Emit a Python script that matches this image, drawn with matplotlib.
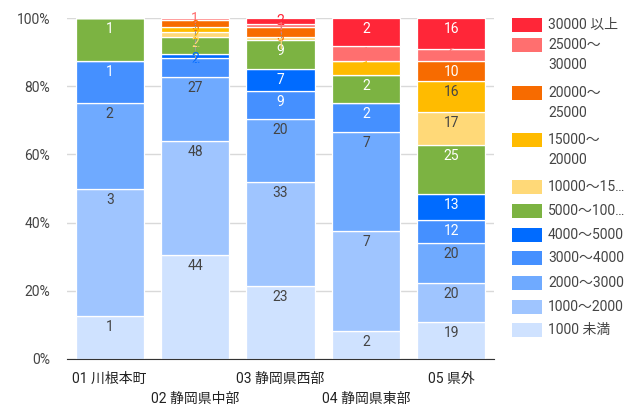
import numpy as np
import matplotlib
matplotlib.use("Agg")
from matplotlib import pyplot as plt
from matplotlib.patches import Rectangle

plt.rcParams['font.family'] = ['Roboto', 'Noto Sans CJK JP', 'DejaVu Sans']

regions = ['01 川根本町', '02 静岡県中部', '03 静岡県西部', '04 静岡県東部', '05 県外']
bands = ['1000 未満', '1000～2000', '2000～3000', '3000～4000', '4000～5000',
         '5000～10000', '10000～15000', '15000～20000', '20000～25000',
         '25000～30000', '30000 以上']
legend_text = ['1000 未満', '1000～2000', '2000～3000', '3000～4000', '4000～5000',
               '5000～100…', '10000～15…', '15000～\n20000', '20000～\n25000',
               '25000～\n30000', '30000 以上']

# counts per region, one list per band (bottom to top)
lt1000 = [1, 44, 23, 2, 19]
b1000 = [3, 48, 33, 7, 20]
b2000 = [2, 27, 20, 7, 20]
b3000 = [1, 8, 9, 2, 12]
b4000 = [0, 2, 7, 0, 13]
b5000 = [1, 7, 9, 2, 25]
b10000 = [0, 2, 1, 0, 17]
b15000 = [0, 2, 0, 1, 16]
b20000 = [0, 3, 3, 0, 10]
b25000 = [0, 1, 1, 1, 6]
ge30000 = [0, 0, 2, 2, 16]

colors = ['#cfe2ff', '#9fc5ff', '#6faaff', '#4590ff', '#006bff',
          '#7cb342', '#ffd978', '#ffbb00', '#f76b00', '#ff6f6f', '#ff2638']
text_dark = [True, True, True, False, False, False, True, True, False, False, False]

counts = np.array([lt1000, b1000, b2000, b3000, b4000, b5000,
                   b10000, b15000, b20000, b25000, ge30000], dtype=float)
totals = counts.sum(axis=0)
shares = counts / totals

fig = plt.figure(figsize=(6.32, 4.05), dpi=100)
ax = fig.add_axes([67 / 632, 1 - 359 / 405, 427 / 632, 341 / 405])

x = np.arange(len(regions))
px = 341.0  # pixels per 100%
bottom = np.zeros(len(regions))
small = [[] for _ in regions]   # labels that don't fit inside their segment
for i, name in enumerate(bands):
    ax.bar(x, shares[i], 0.8, bottom=bottom, color=colors[i],
           edgecolor='white', linewidth=0.9, zorder=2)
    for j in range(len(regions)):
        v = counts[i, j]
        if v == 0:
            continue
        h = shares[i, j]
        top = bottom[j] + h
        if h * px >= 19:
            ax.text(x[j], top - 11 / px, '%d' % v, ha='center', va='center',
                    fontsize=10, color='#444444' if text_dark[i] else 'white',
                    zorder=4)
        else:
            small[j].append((bottom[j] + h / 2, v, colors[i]))
    bottom += shares[i]

# stack the outside labels downward from the top of each bar
for j, items in enumerate(small):
    prev = None
    for mid, v, c in sorted(items, reverse=True):
        y = mid if prev is None else min(mid, prev - 8 / px)
        ax.plot([x[j], x[j]], [y, mid], color='#999999', lw=0.8, zorder=3)
        ax.text(x[j], y, '%d' % v, ha='center', va='center',
                fontsize=10, color=c, zorder=4)
        prev = y

ax.set_xlim(-0.5, len(regions) - 0.5)
ax.set_ylim(0, 1)
ax.set_yticks(np.arange(0, 1.01, 0.2))
ax.set_yticklabels(['%d%%' % t for t in range(0, 101, 20)])
ax.yaxis.grid(True, color='#d9d9d9', lw=1, zorder=0)
ax.set_axisbelow(True)
for s in ['top', 'right', 'left']:
    ax.spines[s].set_visible(False)
ax.spines['bottom'].set_color('#333333')
ax.spines['bottom'].set_zorder(5)
ax.tick_params(axis='y', length=0, pad=12, labelsize=10, labelcolor='#444444')
ax.tick_params(axis='x', length=0, pad=9, labelsize=10, labelcolor='#222222')
ax.set_xticks(x)
ax.set_xticklabels([r if k % 2 == 0 else '\n' + r for k, r in enumerate(regions)],
                   linespacing=1.6)

# legend on the right, top entry first
ly = [25, 45, 93, 140, 187, 211, 235, 258, 283, 307, 330]
order = list(range(len(bands)))[::-1]
for k, i in enumerate(order):
    yc = ly[k]
    fig.add_artist(Rectangle((512 / 632, 1 - (yc + 7) / 405), 30 / 632, 14 / 405,
                             transform=fig.transFigure, facecolor=colors[i],
                             edgecolor='none'))
    fig.text(548 / 632, 1 - (yc - 7) / 405, legend_text[i], ha='left', va='top',
             fontsize=10, color='#444444', linespacing=1.55)

fig.savefig('out.png', dpi=100)
